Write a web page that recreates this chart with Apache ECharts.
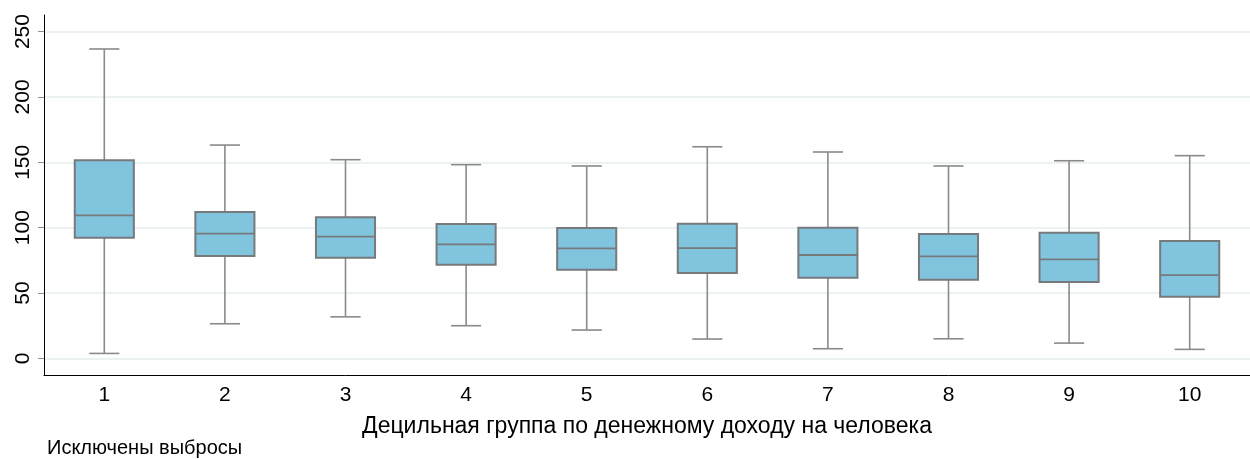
<!DOCTYPE html>
<html>
<head>
<meta charset="utf-8">
<script src="https://cdn.jsdelivr.net/npm/echarts@6/dist/echarts.min.js"></script>
<style>
html,body{margin:0;padding:0;background:#fff;}
#c{width:1250px;height:459px;}
</style>
</head>
<body>
<div id="c"></div>
<script>
const categories = ['1','2','3','4','5','6','7','8','9','10'];
const whiskerLow  = [3.8, 26.5, 31.8, 25.0, 21.7, 14.8, 7.4, 15.0, 11.7, 6.9];
const q1          = [92.3, 78.3, 77.0, 71.7, 67.8, 65.3, 61.7, 60.2, 58.4, 47.1];
const median      = [109.4, 95.4, 93.1, 87.2, 84.2, 84.4, 79.1, 78.0, 75.8, 63.7];
const q3          = [151.5, 112.0, 107.9, 102.8, 99.7, 103.0, 100.0, 95.1, 96.1, 89.8];
const whiskerHigh = [236.7, 163.2, 152.0, 148.2, 147.2, 161.9, 157.9, 147.2, 151.2, 155.1];
const xTitle = 'Децильная группа по денежному доходу на человека';
const note = 'Исключены выбросы';

const data = categories.map((c, i) => [i, whiskerLow[i], q1[i], median[i], q3[i], whiskerHigh[i]]);
const FONT = '"Liberation Sans", Arial, sans-serif';

const chart = echarts.init(document.getElementById('c'), null, {renderer: 'canvas'});
chart.setOption({
  animation: false,
  backgroundColor: '#ffffff',
  grid: {left: 44, top: 15, width: 1218, height: 360, containLabel: false},
  graphic: [{
    type: 'text', left: 47, top: 438,
    style: {text: note, font: '20px ' + FONT, fill: '#000'}
  }],
  xAxis: {
    type: 'category',
    data: categories,
    name: xTitle,
    nameLocation: 'middle',
    nameGap: 40,
    nameTextStyle: {fontFamily: FONT, fontSize: 23, color: '#000'},
    axisLine: {onZero: false, lineStyle: {color: '#000', width: 1}},
    axisTick: {show: false},
    axisLabel: {fontFamily: FONT, fontSize: 21, color: '#000', margin: 10},
    splitLine: {show: false}
  },
  yAxis: {
    type: 'value',
    min: -12.7,
    max: 262.7,
    axisLine: {show: true, lineStyle: {color: '#000', width: 1}},
    axisTick: {show: true, length: 6, lineStyle: {color: '#8c8c8c', width: 1}},
    axisLabel: {
      fontFamily: FONT, fontSize: 21, color: '#000', rotate: 90, margin: 10,
      showMinLabel: false, showMaxLabel: false,
      formatter: v => (Math.abs(v % 50) < 1e-6 ? String(v) : '')
    },
    splitLine: {show: true, showMinLine: false, showMaxLine: false, lineStyle: {color: '#e6eeef', width: 1.5}}
  },
  series: [{
    type: 'custom',
    data: data,
    encode: {x: 0, y: [1, 2, 3, 4, 5]},
    renderItem: function (params, api) {
      const idx = api.value(0);
      const band = api.size([1, 0])[0];
      const boxW = band * 0.49;
      const capW = band * 0.25;
      const pLow = api.coord([idx, api.value(1)]);
      const pQ1 = api.coord([idx, api.value(2)]);
      const pMed = api.coord([idx, api.value(3)]);
      const pQ3 = api.coord([idx, api.value(4)]);
      const pHigh = api.coord([idx, api.value(5)]);
      const x = pMed[0];
      const wStyle = {stroke: '#8a8a8a', lineWidth: 1.6, fill: null};
      const bStyle = {stroke: '#767a7c', lineWidth: 2};
      return {
        type: 'group',
        children: [
          {type: 'line', shape: {x1: x, y1: pHigh[1], x2: x, y2: pQ3[1]}, style: wStyle},
          {type: 'line', shape: {x1: x, y1: pQ1[1], x2: x, y2: pLow[1]}, style: wStyle},
          {type: 'line', shape: {x1: x - capW / 2, y1: pHigh[1], x2: x + capW / 2, y2: pHigh[1]}, style: wStyle},
          {type: 'line', shape: {x1: x - capW / 2, y1: pLow[1], x2: x + capW / 2, y2: pLow[1]}, style: wStyle},
          {type: 'rect', shape: {x: x - boxW / 2, y: pQ3[1], width: boxW, height: pQ1[1] - pQ3[1]},
            style: {fill: '#80c4de', stroke: bStyle.stroke, lineWidth: bStyle.lineWidth}},
          {type: 'line', shape: {x1: x - boxW / 2, y1: pMed[1], x2: x + boxW / 2, y2: pMed[1]},
            style: {stroke: '#767a7c', lineWidth: 1.8}}
        ]
      };
    }
  }]
});
</script>
</body>
</html>
